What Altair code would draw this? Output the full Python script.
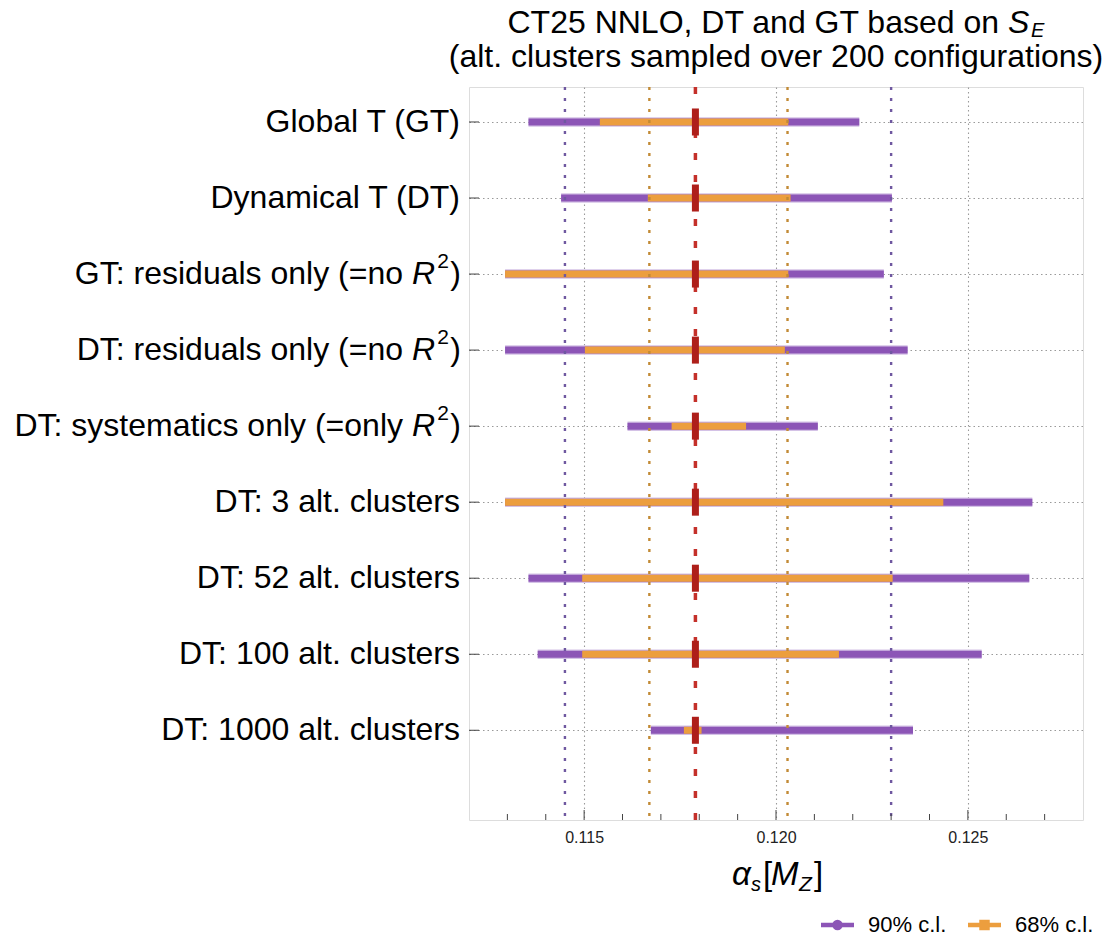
import altair as alt
import pandas as pd

# Fit variants, top to bottom
labels = [
    "Global T (GT)",
    "Dynamical T (DT)",
    "GT: residuals only (=no R²)",
    "DT: residuals only (=no R²)",
    "DT: systematics only (=only R²)",
    "DT: 3 alt. clusters",
    "DT: 52 alt. clusters",
    "DT: 100 alt. clusters",
    "DT: 1000 alt. clusters",
]
positions = [9, 8, 7, 6, 5, 4, 3, 2, 1]

# alpha_s intervals
central = [0.1179, 0.1179, 0.1179, 0.1179, 0.1179, 0.1179, 0.1179, 0.1179, 0.1179]
cl90_lo = [0.11355, 0.11440, 0.11294, 0.11294, 0.11613, 0.11294, 0.11355, 0.11379, 0.11674]
cl90_hi = [0.12217, 0.12302, 0.12281, 0.12343, 0.12109, 0.12668, 0.12660, 0.12536, 0.12357]
cl68_lo = [0.11541, 0.11666, 0.11294, 0.11502, 0.11728, 0.11294, 0.11495, 0.11495, 0.11760]
cl68_hi = [0.12032, 0.12038, 0.12032, 0.12023, 0.11922, 0.12436, 0.12304, 0.12164, 0.11806]

# reference band edges and central value
ref_value = 0.1179
ref90 = [0.1145, 0.1230]
ref68 = [0.1167, 0.1203]

major_ticks = [0.115, 0.120, 0.125]
minor_ticks = [0.113, 0.114, 0.116, 0.117, 0.118, 0.119, 0.121, 0.122, 0.123,
               0.124, 0.126, 0.127]

legend_labels = ["90% c.l.", "68% c.l."]

PURPLE = "#8C55B6"
PURPLE_HALO = "#D4C2E6"
ORANGE = "#EC9E3E"
RED = "#AE1F1A"
RED_LINE = "#C4302A"
PURPLE_DOT = "#6F58A0"
ORANGE_DOT = "#C28A35"
FONT = "Liberation Sans"

W, H = 614, 733
LABEL_SIZE = 32

x_scale = alt.Scale(domain=[0.112, 0.128], nice=False, zero=False)
y_scale = alt.Scale(domain=[-0.18, 9.46], nice=False, zero=False)

x_axis = alt.Axis(
    values=major_ticks, format=".3f", title=None, ticks=False, domain=False,
    labelFontSize=16, labelColor="#222", labelPadding=9, labelFont=FONT,
    grid=True, gridDash=[1.5, 3], gridColor="#9a9a9a", gridWidth=1.1,
)
y_axis = alt.Axis(
    values=positions, title=None, labels=False, ticks=False, domain=False,
    grid=True, gridDash=[1.5, 3], gridColor="#9a9a9a", gridWidth=1.1,
)


def xq(field):
    return alt.X(f"{field}:Q", scale=x_scale, axis=x_axis)


def yq(field):
    return alt.Y(f"{field}:Q", scale=y_scale, axis=y_axis)


# row labels: the "R²" endings get an italic R and a raised 2
mains, lx, has_r2 = [], [], []
for lab in labels:
    if lab.endswith("R²)"):
        mains.append(lab[: -len(" R²)")])
        lx.append(-66)
        has_r2.append(True)
    else:
        mains.append(lab)
        lx.append(-9)
        has_r2.append(False)

df = pd.DataFrame({
    "label": labels, "main": mains, "lx": lx, "r2": has_r2, "pos": positions,
    "c": central, "lo90": cl90_lo, "hi90": cl90_hi, "lo68": cl68_lo, "hi68": cl68_hi,
})
base = alt.Chart(df)

halo = base.mark_rule(strokeWidth=9.5, color=PURPLE_HALO, strokeCap="butt").encode(
    x=xq("lo90"), x2="hi90:Q", y=yq("pos"))
bars90 = base.mark_rule(strokeWidth=7, color=PURPLE, strokeCap="butt").encode(
    x=xq("lo90"), x2="hi90:Q", y=yq("pos"))
bars68 = base.mark_rule(strokeWidth=7, color=ORANGE, strokeCap="butt").encode(
    x=xq("lo68"), x2="hi68:Q", y=yq("pos"))

ref_df = pd.DataFrame({
    "v": ref90 + ref68,
    "kind": ["90", "90", "68", "68"],
})
ref90_lines = alt.Chart(ref_df).transform_filter("datum.kind == '90'").mark_rule(
    color=PURPLE_DOT, strokeWidth=2.4, strokeDash=[3, 8]).encode(x=xq("v"))
ref68_lines = alt.Chart(ref_df).transform_filter("datum.kind == '68'").mark_rule(
    color=ORANGE_DOT, strokeWidth=2.4, strokeDash=[3, 8]).encode(x=xq("v"))

center_line = alt.Chart(pd.DataFrame({"v": [ref_value]})).mark_rule(
    color=RED_LINE, strokeWidth=3.5, strokeDash=[7, 15]).encode(x=xq("v"))

markers = base.mark_tick(orient="vertical", thickness=7, size=27, color=RED,
                         opacity=1).encode(x=xq("c"), y=yq("pos"))

# inward frame ticks
tick_df = pd.DataFrame({
    "v": major_ticks + minor_ticks,
    "major": [True] * len(major_ticks) + [False] * len(minor_ticks),
})
major_marks = alt.Chart(tick_df).transform_filter("datum.major").mark_rule(
    color="#444", strokeWidth=1).encode(x=xq("v"), y=alt.value(H), y2=alt.value(H - 10))
minor_marks = alt.Chart(tick_df).transform_filter("!datum.major").mark_rule(
    color="#444", strokeWidth=1).encode(x=xq("v"), y=alt.value(H), y2=alt.value(H - 6))
row_marks = base.mark_rule(color="#444", strokeWidth=1).encode(
    y=yq("pos"), x=alt.value(0), x2=alt.value(10))

# row labels
row_text = base.mark_text(align="right", baseline="middle", font=FONT,
                          fontSize=LABEL_SIZE, color="black").encode(
    x=alt.X("lx:Q", scale=None), y=yq("pos"), text="main:N")
r2_base = base.transform_filter("datum.r2")
r_text = r2_base.mark_text(align="right", baseline="middle", font=FONT,
                           fontSize=LABEL_SIZE, fontStyle="italic", color="black").encode(
    x=alt.value(-34), y=yq("pos"), text=alt.value("R"))
sup_text = r2_base.mark_text(align="right", baseline="middle", font=FONT,
                             fontSize=21, dy=-12, color="black").encode(
    x=alt.value(-20), y=yq("pos"), text=alt.value("2"))
paren_text = r2_base.mark_text(align="right", baseline="middle", font=FONT,
                               fontSize=LABEL_SIZE, color="black").encode(
    x=alt.value(-8), y=yq("pos"), text=alt.value(")"))

one = alt.Chart(pd.DataFrame({"k": [0]}))


def note(text, x, y, size, align="left", style="normal", color="black"):
    return one.mark_text(align=align, baseline="alphabetic", font=FONT, fontSize=size,
                         fontStyle=style, color=color).encode(
        x=alt.value(x), y=alt.value(y), text=alt.value(text))


# title
title_layers = [
    note("CT25 NNLO, DT and GT based on", 530, -54, 32, align="right"),
    note("S", 539, -54, 32, style="italic"),
    note("E", 562, -50, 20, style="italic"),
    note("(alt. clusters sampled over 200 configurations)", W / 2, -20, 32, align="center"),
]

# x-axis title: alpha_s[M_Z]
axis_title_layers = [
    note("α", 263, 798, 33, style="italic"),
    note("s", 282, 804, 20, style="italic"),
    note("[", 294, 798, 33),
    note("M", 302, 798, 33, style="italic"),
    note("Z", 330, 804, 21, style="italic"),
    note("]", 345, 798, 33),
]

# legend
legend_layers = []
for lab, col, shape, x0, tx in zip(legend_labels, [PURPLE, ORANGE],
                                   ["circle", "square"], [352, 499], [399, 546]):
    legend_layers.append(one.mark_rule(color=col, strokeWidth=4.5).encode(
        x=alt.value(x0), x2=alt.value(x0 + 33), y=alt.value(838)))
    legend_layers.append(one.mark_point(shape=shape, filled=True, color=col, size=110,
                                        opacity=1).encode(
        x=alt.value(x0 + 16.5), y=alt.value(838)))
    legend_layers.append(one.mark_text(align="left", baseline="middle", font=FONT,
                                       fontSize=22, color="black").encode(
        x=alt.value(tx), y=alt.value(838), text=alt.value(lab)))

chart = alt.layer(
    halo, bars90, bars68, ref90_lines, ref68_lines, center_line, markers,
    major_marks, minor_marks, row_marks,
    row_text, r_text, sup_text, paren_text,
    *title_layers, *axis_title_layers, *legend_layers,
).properties(
    width=W, height=H,
    autosize=alt.AutoSizeParams(type="none"),
    padding={"left": 469, "top": 87, "right": 36, "bottom": 116},
).configure_view(
    stroke="#5a5a5a", strokeWidth=1.2
).configure(background="white")

chart.save("out.html", embed_options={"renderer": "svg", "actions": False})
